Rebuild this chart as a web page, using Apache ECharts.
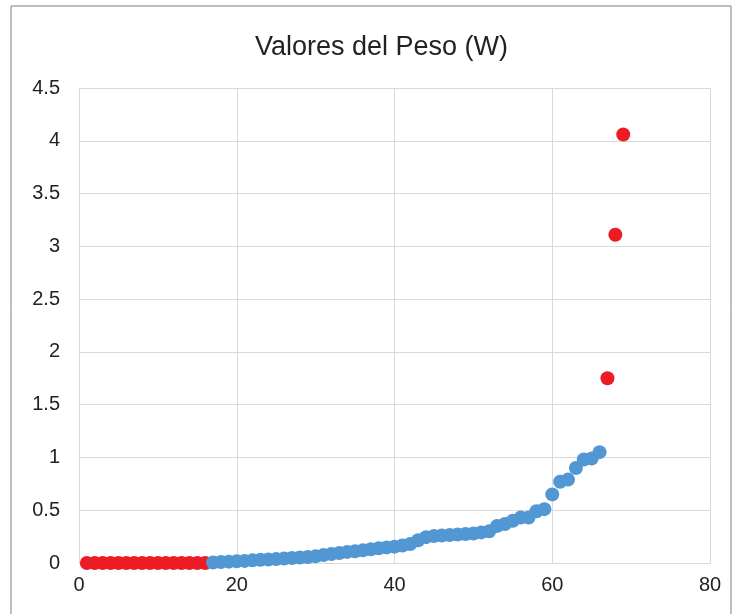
<!DOCTYPE html>
<html>
<head>
<meta charset="utf-8">
<script src="https://cdn.jsdelivr.net/npm/echarts@6/dist/echarts.min.js"></script>
<style>
  html, body { margin: 0; padding: 0; background: #fff; }
  #chart { width: 735px; height: 614px; }
</style>
</head>
<body>
<div id="chart"></div>
<script>
// Datos
const redX = [1, 2, 3, 4, 5, 6, 7, 8, 9, 10, 11, 12, 13, 14, 15, 16, 67, 68, 69]
const redY = [0, 0, 0, 0, 0, 0, 0, 0, 0, 0, 0, 0, 0, 0, 0, 0, 1.75, 3.11, 4.06]

const blueX = [17, 18, 19, 20, 21, 22, 23, 24, 25, 26, 27, 28, 29, 30, 31, 32, 33, 34, 35, 36,
  37, 38, 39, 40, 41, 42, 43, 44, 45, 46, 47, 48, 49, 50, 51, 52, 53, 54, 55, 56,
  57, 58, 59, 60, 61, 62, 63, 64, 65, 66]
const blueY = [0.005, 0.01, 0.013, 0.017, 0.02, 0.025, 0.03, 0.033, 0.037, 0.042,
  0.047, 0.052, 0.057, 0.063, 0.075, 0.085, 0.095, 0.105, 0.112, 0.12,
  0.13, 0.14, 0.148, 0.155, 0.165, 0.18, 0.215, 0.245, 0.255, 0.26,
  0.265, 0.27, 0.275, 0.28, 0.29, 0.3, 0.35, 0.37, 0.4, 0.43,
  0.43, 0.49, 0.51, 0.65, 0.77, 0.79, 0.9, 0.98, 0.99, 1.05]

const chart = echarts.init(document.getElementById('chart'))

const font = 'Liberation Sans, Arial, sans-serif'

chart.setOption({
  animation: false,
  title: {
    text: 'Valores del Peso (W)',
    left: 250,
    top: 29,
    textStyle: { fontFamily: font, fontSize: 27, fontWeight: 'normal', color: '#222' }
  },
  graphic: [{
    type: 'rect',
    shape: { x: 11, y: 6, width: 720, height: 700 },
    style: { fill: 'none', stroke: '#7f7f7f', lineWidth: 1 },
    silent: true
  }],
  grid: { left: 79, right: 25, top: 88, bottom: 51 },
  xAxis: {
    type: 'value',
    min: 0,
    max: 80,
    interval: 20,
    axisLine: { show: true, lineStyle: { color: '#d9d9d9' } },
    axisTick: { show: false },
    splitLine: { show: true, lineStyle: { color: '#d9d9d9' } },
    axisLabel: { fontFamily: font, fontSize: 20, color: '#222', margin: 12 }
  },
  yAxis: {
    type: 'value',
    min: 0,
    max: 4.5,
    interval: 0.5,
    axisLine: { show: true, lineStyle: { color: '#d9d9d9' } },
    axisTick: { show: false },
    splitLine: { show: true, lineStyle: { color: '#d9d9d9' } },
    axisLabel: { fontFamily: font, fontSize: 20, color: '#222', margin: 19 }
  },
  series: [
    {
      type: 'scatter',
      symbolSize: 14,
      itemStyle: { color: '#ED1C24', opacity: 1 },
      data: redX.map((x, i) => [x, redY[i]])
    },
    {
      type: 'scatter',
      symbolSize: 14,
      itemStyle: { color: '#5197D4', opacity: 1 },
      data: blueX.map((x, i) => [x, blueY[i]])
    }
  ]
})
</script>
</body>
</html>
